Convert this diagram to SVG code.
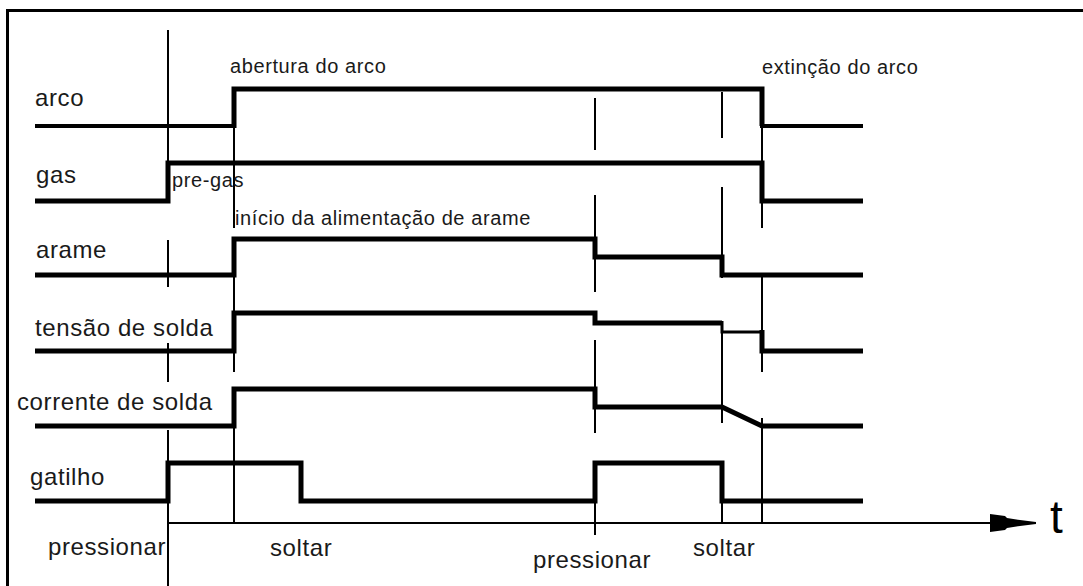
<svg xmlns="http://www.w3.org/2000/svg" width="1083" height="586" viewBox="0 0 1083 586">
  <style>
    .sig { fill: none; stroke: #000; stroke-width: 5; stroke-linejoin: miter; stroke-linecap: butt; }
    .sig-low { fill: none; stroke: #000; stroke-width: 4; }
    .sig-thin { fill: none; stroke: #000; stroke-width: 3; }
    .mark { fill: none; stroke: #000; stroke-width: 2; }
    .lbl { font-family: "Liberation Sans", Arial, sans-serif; font-size: 24px; letter-spacing: 0.6px; fill: #1a1a1a; }
    .note { font-family: "Liberation Sans", Arial, sans-serif; font-size: 20px; letter-spacing: 0.6px; fill: #1a1a1a; }
    .tlbl { font-family: "Liberation Sans", Arial, sans-serif; font-size: 46px; fill: #000; }
  </style>
  <rect x="0" y="0" width="1083" height="586" fill="#fff"/>
  <rect id="frame" x="7.5" y="10.5" width="1100" height="600" fill="none" stroke="#000" stroke-width="3"/>

  <g id="connectors">
    <!-- t0: pressionar -->
    <path class="mark" d="M168,30 V163 M168,240 V287 M168,343 V382 M168,430 V586"/>
    <!-- t1: abertura do arco -->
    <path class="mark" d="M234,126 V228 M234,275 V372 M234,426 V523"/>
    <!-- t2: pressionar -->
    <path class="mark" d="M595,98 V150 M595,195 V292 M595,340 V433 M595,501 V535"/>
    <!-- t3: soltar -->
    <path class="mark" d="M722,92 V138 M722,187 V278 M722,323 V423 M722,501 V523"/>
    <!-- t4: extincao do arco -->
    <path class="mark" d="M762,126 V163 M762,201 V228 M762,275 V372 M762,418 V523"/>
    <!-- time axis -->
    <path class="mark" d="M168,523 H992"/>
    <polygon fill="#000" points="990,514 1005,516 1007,518 1020,520 1036,522 1036,524 1020,526 1007,528 1005,530 990,532"/>
  </g>

  <g id="arco">
    <text class="lbl" x="35" y="106">arco</text>
    <path class="sig-low" d="M35,126 H234"/>
    <path class="sig" d="M234,128 V89 H762 V126"/>
    <path class="sig-low" d="M760,126 H863"/>
  </g>

  <g id="gas">
    <text class="lbl" x="36" y="183">gas</text>
    <path class="sig" d="M35,201 H168 V163 H762 V201 H863"/>
  </g>

  <g id="arame">
    <text class="lbl" x="36" y="258">arame</text>
    <path class="sig" d="M35,275 H234 V239 H595 V257 H722 V275 H863"/>
  </g>

  <g id="tensao">
    <text class="lbl" x="35" y="336">tensão de solda</text>
    <path class="sig" d="M35,351 H234 V313 H595 V323 H722"/>
    <path class="sig-thin" d="M722,321 V332 H762"/>
    <path class="sig" d="M762,330 V351 H863"/>
  </g>

  <g id="corrente">
    <text class="lbl" x="17" y="410">corrente de solda</text>
    <path class="sig" d="M35,426 H234 V389 H595 V407 H722 L762,426 H863"/>
  </g>

  <g id="gatilho">
    <text class="lbl" x="30" y="485">gatilho</text>
    <path class="sig" d="M35,501 H168 V463 H301 V501 H595 V463 H722 V501 H863"/>
  </g>

  <g id="annotations">
    <text class="note" x="230" y="73">abertura do arco</text>
    <text class="note" x="762" y="74">extinção do arco</text>
    <text class="note" x="172" y="187">pre-gas</text>
    <text class="note" x="235" y="225">início da alimentação de arame</text>
    <text class="lbl" x="48" y="555">pressionar</text>
    <text class="lbl" x="270" y="556">soltar</text>
    <text class="lbl" x="533" y="568">pressionar</text>
    <text class="lbl" x="693" y="556">soltar</text>
    <text class="tlbl" x="1050" y="533">t</text>
  </g>
</svg>
